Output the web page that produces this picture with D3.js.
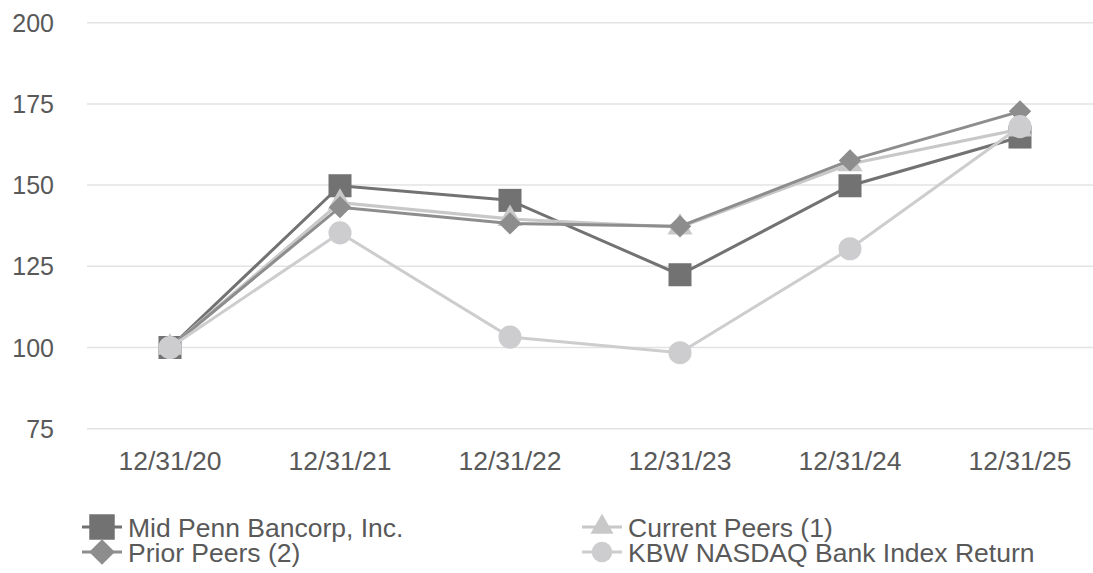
<!DOCTYPE html>
<html>
<head>
<meta charset="utf-8">
<script src="https://cdn.jsdelivr.net/npm/d3@7"></script>
<style>
  body { margin: 0; background: #fff; }
  text { font-family: "Liberation Sans", Arial, sans-serif; }
</style>
</head>
<body>
<svg width="1093" height="573"></svg>
<script>
// categories and tick labels
const dates = ["12/31/20", "12/31/21", "12/31/22", "12/31/23", "12/31/24", "12/31/25"];
const yTicks = [75, 100, 125, 150, 175, 200];

// series values
const midPenn = [100, 149.8, 145.3, 122.4, 149.8, 164.8];
const currentPeers = [100, 144.6, 139.6, 137.0, 156.5, 167.2];
const priorPeers = [100, 143.2, 138.2, 137.3, 157.6, 172.7];
const kbw = [100, 135.3, 103.2, 98.4, 130.4, 168.0];

// diamond = square turned 45 degrees
const diamond = {
  draw(ctx, size) {
    const r = Math.sqrt(size / 2);
    ctx.moveTo(0, -r); ctx.lineTo(r, 0); ctx.lineTo(0, r); ctx.lineTo(-r, 0); ctx.closePath();
  }
};

const series = [
  { name: "Mid Penn Bancorp, Inc.", values: midPenn, color: "#727272", shape: d3.symbolSquare, size: 530, lsize: 650 },
  { name: "Current Peers (1)", values: currentPeers, color: "#c8c8c8", shape: d3.symbolTriangle, size: 270, lsize: 230 },
  { name: "Prior Peers (2)", values: priorPeers, color: "#8d8d8d", shape: diamond, size: 250, lsize: 330 },
  { name: "KBW NASDAQ Bank Index Return", values: kbw, color: "#cdcdcf", shape: d3.symbolCircle, size: 420, lsize: 330 }
];

const svg = d3.select("svg");

const x = d3.scaleBand()
  .domain(dates)
  .range([85, 1105]);

const y = d3.scaleLinear()
  .domain([75, 200])
  .range([428.7, 22.7]);

// gridlines
svg.append("g")
  .selectAll("line")
  .data(yTicks)
  .join("line")
    .attr("x1", 87)
    .attr("x2", 1093)
    .attr("y1", d => y(d))
    .attr("y2", d => y(d))
    .attr("stroke", "#e3e3e3")
    .attr("stroke-width", 1.5);

// y labels
svg.append("g")
  .selectAll("text")
  .data(yTicks)
  .join("text")
    .attr("x", 54)
    .attr("y", d => y(d) + 9)
    .attr("text-anchor", "end")
    .attr("font-size", 25)
    .attr("fill", "#595959")
    .text(d => d);

// x labels
svg.append("g")
  .selectAll("text")
  .data(dates)
  .join("text")
    .attr("x", d => x(d) + x.bandwidth() / 2)
    .attr("y", 470)
    .attr("text-anchor", "middle")
    .attr("font-size", 26.5)
    .attr("fill", "#595959")
    .text(d => d);

const line = d3.line()
  .x((d, i) => x(dates[i]) + x.bandwidth() / 2)
  .y(d => y(d));

series.forEach(s => {
  const g = svg.append("g");
  g.append("path")
    .attr("d", line(s.values))
    .attr("fill", "none")
    .attr("stroke", s.color)
    .attr("stroke-width", 3);
  g.selectAll("path.pt")
    .data(s.values)
    .join("path")
      .attr("class", "pt")
      .attr("transform", (d, i) => `translate(${x(dates[i]) + x.bandwidth() / 2},${y(d)})`)
      .attr("d", d3.symbol().type(s.shape).size(s.size))
      .attr("fill", s.color);
});

// legend
const legendPos = [[82, 527], [582, 527], [82, 552], [582, 552]];
legendPos.forEach(([lx, ly], j) => {
  const s = series[j];
  const g = svg.append("g").attr("transform", `translate(${lx},${ly})`);
  g.append("line")
    .attr("x1", 0).attr("x2", 40)
    .attr("y1", 0).attr("y2", 0)
    .attr("stroke", s.color)
    .attr("stroke-width", 3);
  g.append("path")
    .attr("transform", "translate(20,0)")
    .attr("d", d3.symbol().type(s.shape).size(s.lsize))
    .attr("fill", s.color);
  g.append("text")
    .attr("x", 46)
    .attr("y", 9.5)
    .attr("font-size", 26.5)
    .attr("fill", "#595959")
    .text(s.name);
});
</script>
</body>
</html>
